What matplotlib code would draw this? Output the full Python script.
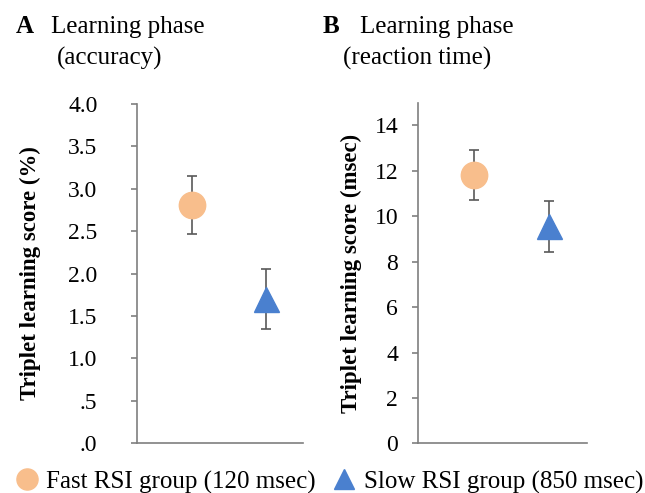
import matplotlib
matplotlib.use("Agg")
import matplotlib.pyplot as plt

# =====================================================
# DATA
# =====================================================

groups = ["Fast RSI group (120 msec)", "Slow RSI group (850 msec)"]
positions = [0, 1]
group_colors = ["#F8BE8C", "#4A80CF"]
group_markers = ["o", "^"]

acc_mean = [2.81, 1.70]
acc_err = [0.34, 0.35]
acc_ticks = [0.0, 0.5, 1.0, 1.5, 2.0, 2.5, 3.0, 3.5, 4.0]
acc_ticklabels = [".0", ".5", "1.0", "1.5", "2.0", "2.5", "3.0", "3.5", "4.0"]

rt_mean = [11.8, 9.55]
rt_err = [1.1, 1.12]
rt_ticks = [0, 2, 4, 6, 8, 10, 12, 14]

plt.rcParams["font.family"] = ["Liberation Serif", "DejaVu Serif"]

fig = plt.figure(figsize=(6.45, 4.93), dpi=100)

ax_a = fig.add_axes([0.2124, 0.1014, 0.2574, 0.6876])
ax_b = fig.add_axes([0.6486, 0.1007, 0.2611, 0.6909])

grey = "#7F7F7F"


def draw_panel(ax, means, errs, ylim, ticks, ticklabels, ylabel, pad):
    handles = []
    for x, m, e, c, mk in zip(positions, means, errs, group_colors, group_markers):
        ax.errorbar(x, m, yerr=e, fmt="none", ecolor="#595959",
                    elinewidth=1.2, capsize=3.5, capthick=1.2, zorder=2)
        h, = ax.plot(x, m, marker=mk, color=c, markersize=19 if mk == "o" else 18,
                     linestyle="none", zorder=3)
        handles.append(h)
    ax.set_xlim(-0.75, 1.5)
    ax.set_ylim(*ylim)
    ax.set_yticks(ticks)
    ax.set_yticklabels(ticklabels)
    ax.set_xticks([])
    for side in ["top", "right"]:
        ax.spines[side].set_visible(False)
    for side in ["left", "bottom"]:
        ax.spines[side].set_color(grey)
        ax.spines[side].set_linewidth(1.2)
    ax.tick_params(axis="y", direction="out", length=4.5, width=1.2,
                   color=grey, labelsize=17, pad=pad)
    ax.set_ylabel(ylabel, fontsize=16.5, fontweight="bold")
    return handles


handles = draw_panel(ax_a, acc_mean, acc_err, (0, 4), acc_ticks, acc_ticklabels,
                     "Triplet learning score (%)", 24)
ax_a.yaxis.set_label_coords(-0.58, 0.5)

draw_panel(ax_b, rt_mean, rt_err, (0, 15), rt_ticks, [str(t) for t in rt_ticks],
           "Triplet learning score (msec)", 10)
ax_b.yaxis.set_label_coords(-0.335, 0.5)

# =====================================================
# PANEL TITLES
# =====================================================

W, H = 645.0, 493.0
fig.text(16 / W, 1 - 33 / H, "A", fontsize=18, fontweight="bold", va="baseline")
fig.text(51 / W, 1 - 33 / H, "Learning phase", fontsize=18, va="baseline")
fig.text(57 / W, 1 - 65 / H, "(accuracy)", fontsize=18, va="baseline")

fig.text(323 / W, 1 - 33 / H, "B", fontsize=18, fontweight="bold", va="baseline")
fig.text(360 / W, 1 - 33 / H, "Learning phase", fontsize=18, va="baseline")
fig.text(343 / W, 1 - 65 / H, "(reaction time)", fontsize=18, va="baseline")

# =====================================================
# LEGEND
# =====================================================

fig.legend(handles, groups, loc="center left", bbox_to_anchor=(14 / W, 11 / H),
           ncol=2, frameon=False, fontsize=18, markerscale=0.8,
           handlelength=1.0, handletextpad=0.3, columnspacing=0.6,
           borderpad=0, borderaxespad=0)

fig.savefig("out.png", dpi=100)
